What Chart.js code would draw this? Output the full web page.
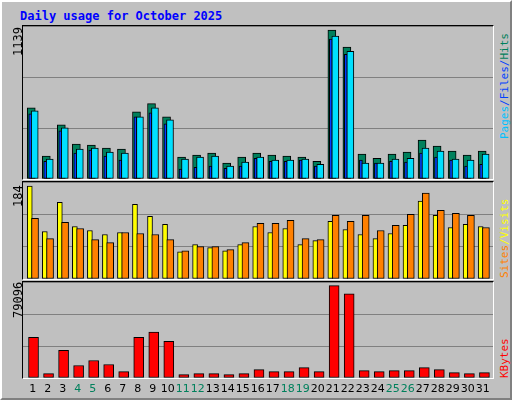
<!DOCTYPE html>
<html><head><meta charset="utf-8">
<script src="https://cdn.jsdelivr.net/npm/chart.js@4"></script>
<style>
body{margin:0;background:#fff}
#frame{position:absolute;left:0;top:0;width:508px;height:396px;background:#c0c0c0;border-left:2px solid #fff;border-top:2px solid #fff;border-right:2px solid #808080;border-bottom:2px solid #808080;outline:1px solid #000;font-family:"DejaVu Sans Mono",monospace}
#title{position:absolute;left:18px;top:7px;color:#0000ff;font-weight:bold;font-size:12px}
.pane{position:absolute;left:20px;width:470px;border-top:1px solid #000;border-left:1px solid #000;border-right:1px solid #fff;border-bottom:1px solid #fff}
.pane canvas{position:absolute;left:0;top:0}
.vl{position:absolute;transform-origin:0 0;transform:rotate(-90deg);font-size:12px;white-space:nowrap}
.vr{font-size:11px}
.day{position:absolute;top:380px;font-size:11px;font-family:"DejaVu Sans",sans-serif;width:20px;text-align:center}
</style></head><body>
<div id="frame">
<div id="title">Daily usage for October 2025</div>
<div class="pane" style="top:23px;height:153px"><canvas id="c1"></canvas></div>
<div class="pane" style="top:179px;height:97px"><canvas id="c2"></canvas></div>
<div class="pane" style="top:279px;height:96px"><canvas id="c3"></canvas></div>
<div class="vl" style="left:9px;top:54px">1139</div>
<div class="vl" style="left:9px;top:205px">184</div>
<div class="vl" style="left:9px;top:316px">79096</div>
<div class="vl vr" style="left:496px;top:137px"><span style="color:#00c0ff">Pages</span><span style="color:#0040ff">/Files/</span><span style="color:#00805c">Hits</span></div>
<div class="vl vr" style="left:496px;top:276px"><span style="color:#ff8000">Sites</span><span style="color:#ffff00">/Visits</span></div>
<div class="vl vr" style="left:496px;top:376px;color:#ff0000">KBytes</div>
<div id="days"></div>
</div>
<script>
const days = Array.from({length: 31}, (_, i) => i + 1);
const weekend = [4, 5, 11, 12, 18, 19, 25, 26];
const hits = [545,175,414,267,260,237,229,514,576,476,167,183,198,121,167,198,183,175,167,136,1139,1008,190,159,190,206,298,252,213,183,213];
const files = [522,152,391,229,237,206,198,476,545,452,152,167,175,98,129,167,144,144,152,113,1093,977,121,121,152,159,237,213,152,144,190];
const pages = [499,136,368,198,221,175,144,476,506,422,75,90,98,82,98,159,136,136,144,98,1070,954,144,121,136,129,198,167,144,98,113];
const visits = [184,94,152,104,96,88,92,148,124,108,54,68,62,56,68,104,92,100,68,76,114,98,88,80,90,106,154,126,102,108,104];
const sites = [120,80,112,100,78,72,92,90,88,78,56,64,64,58,72,110,110,116,80,78,126,114,126,96,106,128,170,136,130,126,102];
const kbytes = [34930,3750,23670,10680,15010,11550,5490,34930,39260,31470,2890,3750,3750,2890,3750,7220,5490,5490,8950,5490,79096,72170,6350,5490,6350,6350,8950,7220,4620,3750,4620];

function pts(vals, off) { return vals.map((v, i) => ({x: days[i] + off, y: v})); }
function ds(vals, off, color, w, order) {
  return {data: pts(vals, off), backgroundColor: color, borderColor: '#000', borderWidth: 1,
    borderSkipped: false, barThickness: w, order: order, grouped: false};
}
function make(id, w, h, max, sets) {
  const cv = document.getElementById(id);
  cv.width = w; cv.height = h; cv.style.width = w + 'px'; cv.style.height = h + 'px';
  return new Chart(cv, {
    type: 'bar',
    data: {datasets: sets},
    options: {
      responsive: false, animation: false, devicePixelRatio: 1,
      layout: {padding: 0},
      plugins: {legend: {display: false}, tooltip: {enabled: false}},
      scales: {
        x: {type: 'linear', min: 0.35, max: 31.62, offset: false, display: false},
        y: {min: 0, max: max, display: true, border: {display: false},
          ticks: {display: false, stepSize: max / 3},
          grid: {color: '#808080', lineWidth: 1, drawTicks: false}}
      }
    }
  });
}
make('c1', 470, 153, 1170, [
  ds(hits, -0.1, '#00805c', 8, 3),
  ds(pages, -0.17, '#0040ff', 3, 2),
  ds(files, 0.13, '#00e0ff', 7, 1)
]);
make('c2', 470, 97, 192, [
  ds(visits, -0.2, '#ffff00', 5, 2),
  ds(sites, 0.15, '#ff8000', 7, 1)
]);
make('c3', 470, 96, 82270, [
  ds(kbytes, 0.05, '#ff0000', 10, 1)
]);
const dl = document.getElementById('days');
days.forEach(d => {
  const s = document.createElement('div');
  s.className = 'day';
  s.textContent = d;
  s.style.left = (21 + (d - 0.35) * 15 - 10) + 'px';
  s.style.color = weekend.includes(d) ? '#00805c' : '#000';
  dl.appendChild(s);
});
</script>
</body></html>
